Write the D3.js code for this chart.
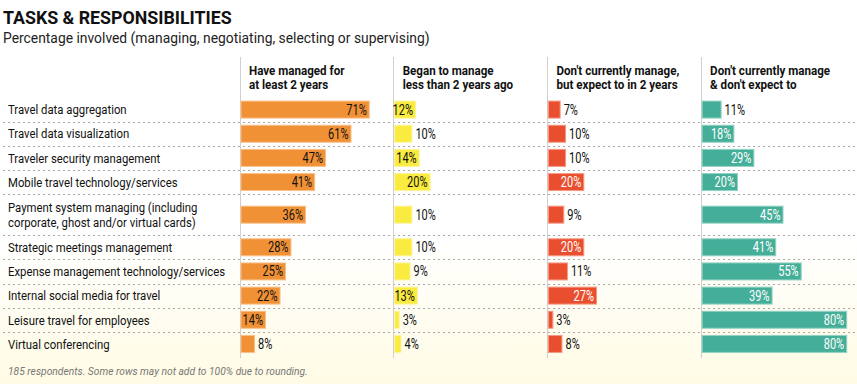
<!DOCTYPE html>
<html>
<head>
<meta charset="utf-8">
<script src="https://cdn.jsdelivr.net/npm/d3@7"></script>
<style>
  body { margin: 0; background: #fff; }
  svg { display: block; }
  text { font-family: Roboto, "Liberation Sans", sans-serif; }
</style>
</head>
<body>
<div id="chart"></div>
<script>
const tasks = [
  ['Travel data aggregation'],
  ['Travel data visualization'],
  ['Traveler security management'],
  ['Mobile travel technology/services'],
  ['Payment system managing (including', 'corporate, ghost and/or virtual cards)'],
  ['Strategic meetings management'],
  ['Expense management technology/services'],
  ['Internal social media for travel'],
  ['Leisure travel for employees'],
  ['Virtual conferencing'],
];

const seriesNames = [
  ['Have managed for', 'at least 2 years'],
  ['Began to manage', 'less than 2 years ago'],
  ["Don't currently manage,", 'but expect to in 2 years'],
  ["Don't currently manage", "& don't expect to"],
];

const managed = [71, 61, 47, 41, 36, 28, 25, 22, 14, 8];
const began = [12, 10, 14, 20, 10, 10, 9, 13, 3, 4];
const expect = [7, 10, 10, 20, 9, 20, 11, 27, 3, 8];
const notExpect = [11, 18, 29, 20, 45, 41, 55, 39, 80, 80];

const title = 'TASKS & RESPONSIBILITIES';
const subtitle = 'Percentage involved (managing, negotiating, selecting or supervising)';
const footnote = '185 respondents. Some rows may not add to 100% due to rounding.';

const seriesValues = [managed, began, expect, notExpect];
const colours = ['#f19136', '#f9eb3f', '#e94f2f', '#45ae98'];
const edgeColours = ['#f8c08a', '#fcf39a', '#f39a84', '#93d2c4'];
const insideText = ['#111', '#111', '#fff', '#fff'];

const width = 857;
const height = 384;

const dim = {
  labelLeft: 8,
  colStart: 240.5,
  colWidth: 153.7,
  rowsTop: 97.5,
  rowsBottom: 356,
  barHeight: 17,
  barMax: 182,
};

const svg = d3.select('#chart').append('svg')
  .attr('width', width)
  .attr('height', height);

// the original uses a condensed face; squeeze the installed font to the same widths
function squeeze(style, sample, target) {
  const probe = svg.append('text').call(applyStyle, style).text(sample);
  const w = probe.node().getComputedTextLength();
  probe.remove();
  return { ...style, sx: target / w };
}

function applyStyle(sel, style) {
  sel.style('font-size', `${style.size}px`)
    .style('font-weight', style.weight || 'normal')
    .style('font-style', style.italic ? 'italic' : 'normal')
    .attr('fill', style.fill || '#111');
}

function label(parent, x, y, lines, style, opts = {}) {
  const t = parent.append('text')
    .attr('transform', `translate(${x},${y}) scale(${style.sx},1)`)
    .attr('text-anchor', opts.anchor || 'start')
    .call(applyStyle, style);
  if (opts.fill) t.attr('fill', opts.fill);
  lines.forEach((line, k) => {
    t.append('tspan').attr('x', 0).attr('dy', k === 0 ? (opts.dy || 0) : style.lineGap).text(line);
  });
  return t;
}

const titleStyle = squeeze({ size: 17.5, weight: 'bold' }, title, 229);
const subStyle = squeeze({ size: 14, fill: '#222' }, subtitle, 427);
const headStyle = squeeze({ size: 13, weight: 'bold', lineGap: 14.5 }, seriesNames[2][0], 123);
const rowStyle = squeeze({ size: 13.2, lineGap: 15.5 }, tasks[6][0], 217);
const valueStyle = squeeze({ size: 14 }, '71%', 20.5);
const noteStyle = squeeze({ size: 11, italic: true, fill: '#777' }, footnote, 300);

// background fade
const grad = svg.append('defs').append('linearGradient')
  .attr('id', 'bg').attr('x1', 0).attr('y1', 0).attr('x2', 0).attr('y2', 1);
grad.append('stop').attr('offset', '0.62').attr('stop-color', '#ffffff');
grad.append('stop').attr('offset', '1').attr('stop-color', '#fffbe4');
svg.append('rect').attr('width', width).attr('height', height).attr('fill', 'url(#bg)');

// titles
label(svg, 3, 24, [title], titleStyle);
label(svg, 3, 43, [subtitle], subStyle);

// row positions: payment row is taller
const rowUnits = tasks.map(t => t.length > 1 ? 1.7 : 1);
const rowOffsets = d3.cumsum([0, ...rowUnits]);
const yScale = d3.scaleLinear()
  .domain([0, rowOffsets[rowOffsets.length - 1]])
  .range([dim.rowsTop, dim.rowsBottom]);
const rowCenter = i => (yScale(rowOffsets[i]) + yScale(rowOffsets[i + 1])) / 2;

const xCol = d3.scaleLinear().domain([0, 1]).range([dim.colStart, dim.colStart + dim.colWidth]);
const xBar = d3.scaleLinear().domain([0, 100]).range([0, dim.barMax]);

// dotted row separators
svg.append('g').selectAll('line')
  .data(d3.range(1, tasks.length))
  .join('line')
  .attr('x1', 3).attr('x2', width)
  .attr('y1', i => Math.round(yScale(rowOffsets[i])) + 0.5)
  .attr('y2', i => Math.round(yScale(rowOffsets[i])) + 0.5)
  .attr('stroke', '#a8a8a8')
  .attr('stroke-dasharray', '2,3');

// column separators
svg.append('g').selectAll('line')
  .data(d3.range(seriesNames.length))
  .join('line')
  .attr('x1', i => Math.round(xCol(i)) - 0.5)
  .attr('x2', i => Math.round(xCol(i)) - 0.5)
  .attr('y1', 57).attr('y2', 358)
  .attr('stroke', '#cfcfcf');

// column headers
seriesNames.forEach((lines, c) => {
  label(svg, xCol(c) + 8.5, 74.5, lines, headStyle);
});

// row labels
tasks.forEach((lines, i) => {
  const top = rowCenter(i) - (lines.length - 1) * rowStyle.lineGap / 2;
  label(svg, dim.labelLeft, top, lines, rowStyle, { dy: '0.36em' });
});

// bars
seriesValues.forEach((values, c) => {
  const g = svg.append('g')
    .attr('class', `series${c}`)
    .attr('transform', `translate(${xCol(c)}, 0)`);

  g.selectAll('rect')
    .data(values)
    .join('rect')
    .attr('x', 0.5)
    .attr('y', (d, i) => rowCenter(i) - dim.barHeight / 2)
    .attr('width', d => xBar(d) - 1)
    .attr('height', dim.barHeight)
    .attr('fill', colours[c])
    .attr('stroke', edgeColours[c])
    .attr('stroke-width', 1);

  values.forEach((d, i) => {
    const inside = d >= 12;
    label(g, inside ? xBar(d) - 3 : xBar(d) + 3, rowCenter(i), [`${d}%`], valueStyle, {
      anchor: inside ? 'end' : 'start',
      fill: inside ? insideText[c] : '#111',
      dy: '0.36em',
    });
  });
});

// footnote
label(svg, 8, 375, [footnote], noteStyle);
</script>
</body>
</html>
